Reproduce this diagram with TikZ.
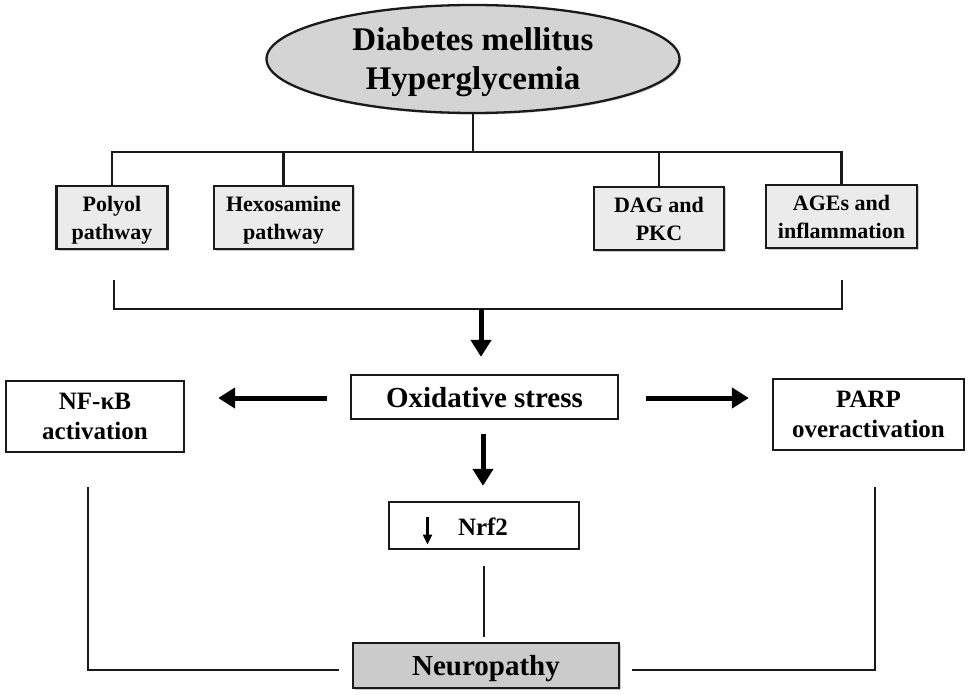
\documentclass[tikz,border=0pt]{standalone}
\usepackage{fontspec}
\setmainfont{Liberation Serif}
\usetikzlibrary{arrows.meta,shapes.geometric,shadows,calc}
\definecolor{ellgray}{HTML}{D4D4D4}
\definecolor{boxgray}{HTML}{EBEBEB}
\definecolor{neugray}{HTML}{CBCBCB}
\definecolor{ink}{HTML}{1A1A1A}
\begin{document}
\begin{tikzpicture}[x=1pt,y=-1pt,
  box/.style={draw=ink, line width=2.3pt, inner sep=0pt, align=center, text depth=0pt, font=\bfseries},
  shade/.style={drop shadow={shadow xshift=1.5pt, shadow yshift=-1.5pt, opacity=0.2, fill=black}},
  pbox/.style={box, fill=boxgray, shade, minimum height=63pt, font=\bfseries\fontsize{22}{28}\selectfont},
  sidebox/.style={box, fill=white, minimum height=71pt, font=\bfseries\fontsize{25}{30}\selectfont},
  conn/.style={draw=ink, line width=2.3pt},
  bigarrow/.style={draw=black, line width=5pt, -{Triangle[width=20pt,length=17pt]}}
]
\useasboundingbox (0,0) rectangle (969,695);

% top ellipse
\node[box, ellipse, fill=ellgray, shade, minimum width=413pt, minimum height=108pt,
      font=\bfseries\fontsize{33}{39}\selectfont] (dm) at (473,59) {Diabetes mellitus\\Hyperglycemia\rule[-5pt]{0pt}{5pt}};

% pathway boxes
\node[pbox, minimum width=111pt] (poly) at (112,217.5) {Polyol\\pathway};
\node[pbox, minimum width=139pt] (hex) at (283.5,217.5) {Hexosamine\\pathway};
\node[pbox, minimum width=130pt] (dag) at (659,218.5) {DAG and\\PKC};
\node[pbox, minimum width=151pt] (ages) at (841.5,216.5) {AGEs and\\inflammation};

% middle row
\node[box, fill=white, minimum width=267pt, minimum height=44pt,
      font=\bfseries\fontsize{29}{34}\selectfont] (ox) at (484.5,397) {Oxidative stress};
\node[sidebox, minimum width=178pt] (nf) at (95,416.5) {NF-κB\\activation};
\node[sidebox, minimum width=191pt] (parp) at (868.5,414.5) {PARP\\overactivation};

% Nrf2
\node[box, fill=white, minimum width=190pt, minimum height=47pt, text width=190pt, align=left,
      font=\bfseries\fontsize{25}{30}\selectfont] (nrf) at (484,525.5)
      {\hspace*{34pt}\tikz[baseline=0pt]{\draw[line width=2.2pt,-{Triangle[width=9pt,length=10pt]}] (0pt,19pt) -- (0pt,-9pt);}\hspace{26pt}Nrf2};

% Neuropathy
\node[box, fill=neugray, shade, minimum width=266pt, minimum height=45pt,
      font=\bfseries\fontsize{29}{34}\selectfont] (neu) at (486,665.5) {Neuropathy};

% top bus
\coordinate (bus) at (473,152);
\draw[conn] (dm.south) -- (dm.south |- bus);
\draw[conn] (poly.north) |- (bus) -| (ages.north);
\draw[conn] (hex.north) -- (hex.north |- bus);
\draw[conn] (dag.north) -- (dag.north |- bus);

% lower bracket
\coordinate (bl) at (114,280);
\coordinate (br) at (842,280);
\coordinate (jn) at (481,309);
\draw[conn] (bl) |- (jn) -| (br);
\draw[bigarrow, shorten >=17pt] (jn) -- (jn |- ox.north);

% arrows from oxidative stress
\draw[bigarrow, shorten <=23pt, shorten >=33pt] ([yshift=-1pt]ox.west) -- ([yshift=-1pt]ox.west -| nf.east);
\draw[bigarrow, shorten <=27pt, shorten >=23pt] ([yshift=-1pt]ox.east) -- ([yshift=-1pt]ox.east -| parp.west);
\draw[bigarrow, shorten <=14pt, shorten >=15pt] ([xshift=-1.5pt]ox.south) -- ([xshift=-1.5pt]ox.south |- nrf.north);

% to neuropathy
\draw[conn, shorten <=16pt, shorten >=5pt] (nrf.south) -- (nrf.south |- neu.north);
\coordinate (nfe) at (88,487);
\coordinate (nl) at (339,670);
\draw[conn] (nfe) |- (nl);
\coordinate (pe) at (875,487);
\coordinate (nr) at (632,670);
\draw[conn] (nr) -| (pe);
\end{tikzpicture}
\end{document}
